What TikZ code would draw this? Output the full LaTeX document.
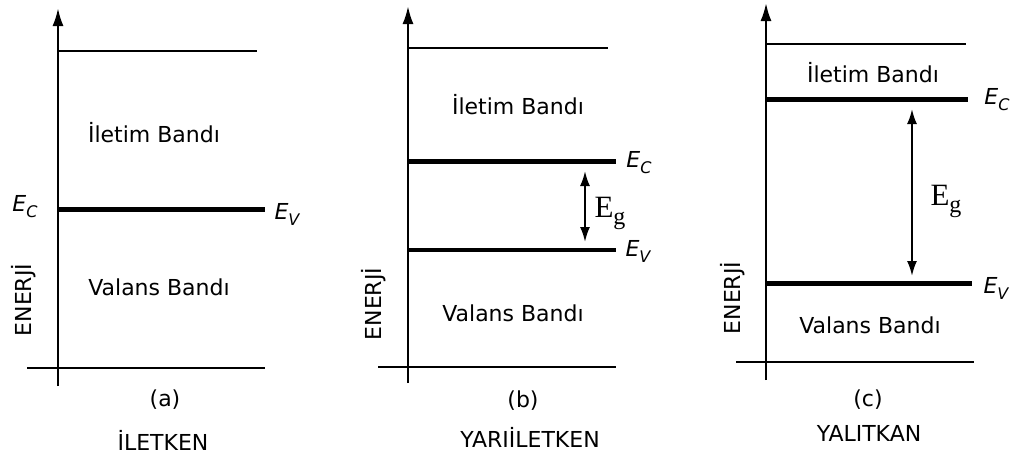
\documentclass[tikz,border=0pt]{standalone}
\usepackage{fontspec}
\setmainfont{DejaVu Sans}
\newfontfamily\serifE{Liberation Serif}
\usetikzlibrary{arrows.meta}
\newcommand{\lev}[1]{E\raisebox{-6pt}{\fontsize{16}{16}\selectfont #1}}
\newcommand{\egap}{E\raisebox{-7pt}{\fontsize{24}{24}\selectfont g}}
\begin{document}
\begin{tikzpicture}[x=1pt,y=-1pt,
  thinln/.style={line width=2.3pt},
  thickln/.style={line width=5pt},
  axis/.style={line width=2.3pt,-{Latex[length=18pt,width=11pt]}},
  gap/.style={line width=2pt,{Latex[length=15pt,width=10pt]}-{Latex[length=15pt,width=10pt]}},
  band/.style={font=\fontsize{22}{24}\selectfont},
  lvl/.style={font=\fontsize{22}{24}\selectfont\itshape,inner sep=0pt},
  eg/.style={font=\fontsize{31}{33}\serifE,inner sep=0pt},
  enr/.style={font=\fontsize{22}{24}\selectfont,rotate=90,inner sep=0pt},
  captxt/.style={font=\fontsize{22}{24}\selectfont}]
\useasboundingbox[fill=white] (0,0) rectangle (1023,461);
% ---------- (a)
\coordinate (a0) at (58,386); \coordinate (a1) at (58,8);
\draw[axis] (a0) -- (a1);
\coordinate (at1) at (58,51); \coordinate (at2) at (257,51);
\draw[thinln] (at1) -- (at2);
\coordinate (ae1) at (58,209); \coordinate (ae2) at (265,209);
\draw[thickln] (ae1) -- (ae2);
\coordinate (ab1) at (27,368); \coordinate (ab2) at (265,368);
\draw[thinln] (ab1) -- (ab2);
\node[band] (aib) at (154,133) {İletim Bandı};
\node[band] (avb) at (159,287) {Valans Bandı};
\node[lvl] (aec) at (25,207) {\lev{C}};
\node[lvl] (aev) at (287,214) {\lev{V}};
\node[enr] (aen) at (24,300) {ENERJİ};
\node[captxt] (alab) at (165,400) {(a)};
\node[captxt] (aname) at (163,440) {İLETKEN};
% ---------- (b)
\coordinate (b0) at (408,383); \coordinate (b1) at (408,6);
\draw[axis] (b0) -- (b1);
\coordinate (bt1) at (408,48); \coordinate (bt2) at (608,48);
\draw[thinln] (bt1) -- (bt2);
\coordinate (bc1) at (408,161); \coordinate (bc2) at (616,161);
\draw[thickln] (bc1) -- (bc2);
\coordinate (bv1) at (408,250); \coordinate (bv2) at (616,250);
\draw[line width=4pt] (bv1) -- (bv2);
\coordinate (bb1) at (378,367); \coordinate (bb2) at (616,367);
\draw[thinln] (bb1) -- (bb2);
\coordinate (bg1) at (585,171); \coordinate (bg2) at (585,242);
\draw[gap] (bg1) -- (bg2);
\node[eg] (beg) at (610,213) {\egap};
\node[lvl] (bec) at (639,163) {\lev{C}};
\node[lvl] (bev) at (638,251) {\lev{V}};
\node[band] (bib) at (518,105) {İletim Bandı};
\node[band] (bvb) at (513,313) {Valans Bandı};
\node[enr] (ben) at (374,304) {ENERJİ};
\node[captxt] (blab) at (523,401) {(b)};
\node[captxt] (bname) at (530,437) {YARIİLETKEN};
% ---------- (c)
\coordinate (c0) at (766,380); \coordinate (c1) at (766,3);
\draw[axis] (c0) -- (c1);
\coordinate (ct1) at (766,44); \coordinate (ct2) at (966,44);
\draw[thinln] (ct1) -- (ct2);
\coordinate (cc1) at (766,99); \coordinate (cc2) at (968,99);
\draw[thickln] (cc1) -- (cc2);
\coordinate (cv1) at (766,283); \coordinate (cv2) at (972,283);
\draw[thickln] (cv1) -- (cv2);
\coordinate (cb1) at (736,362); \coordinate (cb2) at (974,362);
\draw[thinln] (cb1) -- (cb2);
\coordinate (cg1) at (912,109); \coordinate (cg2) at (912,276);
\draw[gap] (cg1) -- (cg2);
\node[eg] (ceg) at (946,201) {\egap};
\node[lvl] (cec) at (997,100) {\lev{C}};
\node[lvl] (cev) at (996,288) {\lev{V}};
\node[band] (cib) at (873,73) {İletim Bandı};
\node[band] (cvb) at (870,325) {Valans Bandı};
\node[enr] (cen) at (733,298) {ENERJİ};
\node[captxt] (clab) at (868,400) {(c)};
\node[captxt] (cname) at (869,433) {YALITKAN};
\end{tikzpicture}
\end{document}
